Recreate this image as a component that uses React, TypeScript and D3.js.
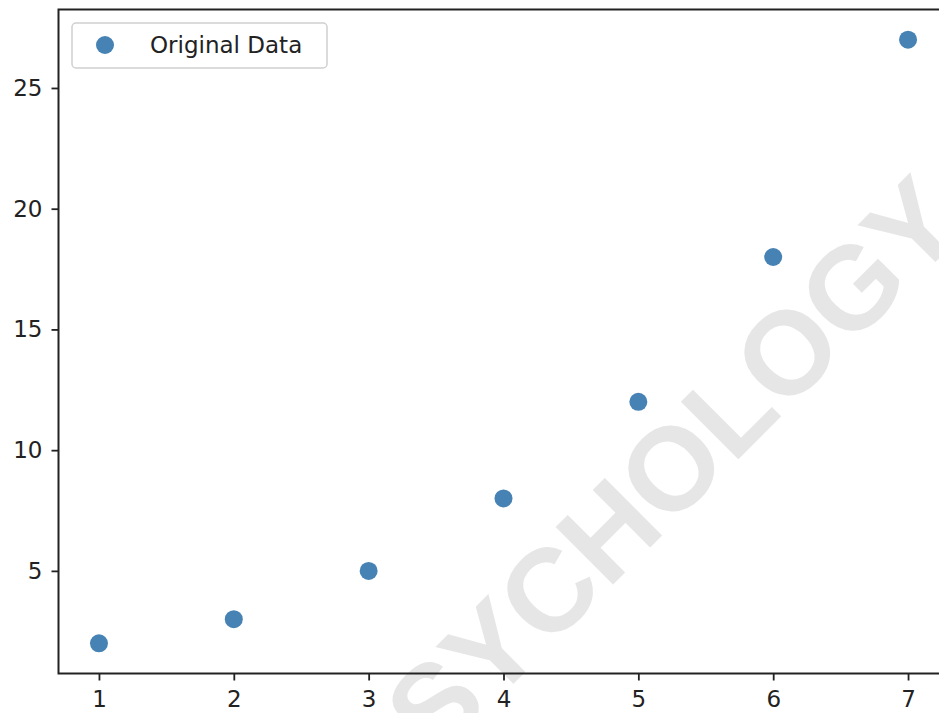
import React, { useEffect, useRef } from 'react'
import * as d3 from 'd3'

const xValues = [1, 2, 3, 4, 5, 6, 7]
const yValues = [2, 3, 5, 8, 12, 18, 27]
const xTicks = [1, 2, 3, 4, 5, 6, 7]
const yTicks = [5, 10, 15, 20, 25]
const seriesName = 'Original Data'
const watermark = 'PSYCHOLOGY'

function ScatterChart() {
  const ref = useRef(null)

  useEffect(() => {
    const width = 939
    const height = 713
    const svg = d3.select(ref.current).attr('width', width).attr('height', height)
    svg.selectAll('*').remove()

    const font = 'DejaVu Sans, sans-serif'
    const dotColor = '#4682b4'

    // matplotlib-style 5% padding around the data
    const x = d3.scaleLinear().domain([0.7, 7.3]).range([58.5, 948.5])
    const y = d3.scaleLinear().domain([0.75, 28.25]).range([673.5, 9.5])

    // watermark behind the plot
    svg
      .append('text')
      .attr('transform', 'translate(645, 493) rotate(-45)')
      .attr('text-anchor', 'middle')
      .attr('dy', 42)
      .attr('font-family', 'Liberation Sans, Arial, sans-serif')
      .attr('font-weight', 'bold')
      .attr('font-size', 118)
      .attr('fill', '#e6e6e6')
      .text(watermark)

    // points
    svg
      .append('g')
      .selectAll('circle')
      .data(xValues.map((v, i) => ({ x: v, y: yValues[i] })))
      .join('circle')
      .attr('cx', (d) => x(d.x))
      .attr('cy', (d) => y(d.y))
      .attr('r', 9)
      .attr('fill', dotColor)

    // X axis
    const xAxis = svg
      .append('g')
      .attr('transform', `translate(0, ${y.range()[0]})`)
      .call(d3.axisBottom(x).tickValues(xTicks).tickSize(7).tickPadding(10).tickFormat(d3.format('d')))
    // Y axis
    const yAxis = svg
      .append('g')
      .attr('transform', `translate(${x.range()[0]}, 0)`)
      .call(d3.axisLeft(y).tickValues(yTicks).tickSize(7).tickPadding(9).tickFormat(d3.format('d')))

    ;[xAxis, yAxis].forEach((ax) => {
      ax.select('.domain').remove()
      ax.selectAll('.tick line').attr('stroke', '#222').attr('stroke-width', 1.8)
      ax.selectAll('.tick text').attr('fill', '#222').attr('font-size', 23).attr('font-family', font)
    })

    // spines
    svg
      .append('rect')
      .attr('x', x.range()[0])
      .attr('y', y.range()[1])
      .attr('width', x.range()[1] - x.range()[0])
      .attr('height', y.range()[0] - y.range()[1])
      .attr('fill', 'none')
      .attr('stroke', '#222')
      .attr('stroke-width', 2)

    // legend
    const legend = svg.append('g')
    legend
      .append('rect')
      .attr('x', 72)
      .attr('y', 23)
      .attr('width', 255)
      .attr('height', 45)
      .attr('rx', 4)
      .attr('fill', 'white')
      .attr('fill-opacity', 0.8)
      .attr('stroke', '#d0d0d0')
      .attr('stroke-width', 1.5)
    legend.append('circle').attr('cx', 105).attr('cy', 45).attr('r', 9).attr('fill', dotColor)
    legend
      .append('text')
      .attr('x', 150)
      .attr('y', 53)
      .attr('font-family', font)
      .attr('font-size', 23)
      .attr('fill', '#222')
      .text(seriesName)
  }, [])

  return <svg ref={ref} style={{ position: 'absolute', left: 0, top: 0 }} />
}

export default function App() {
  return <ScatterChart />
}
